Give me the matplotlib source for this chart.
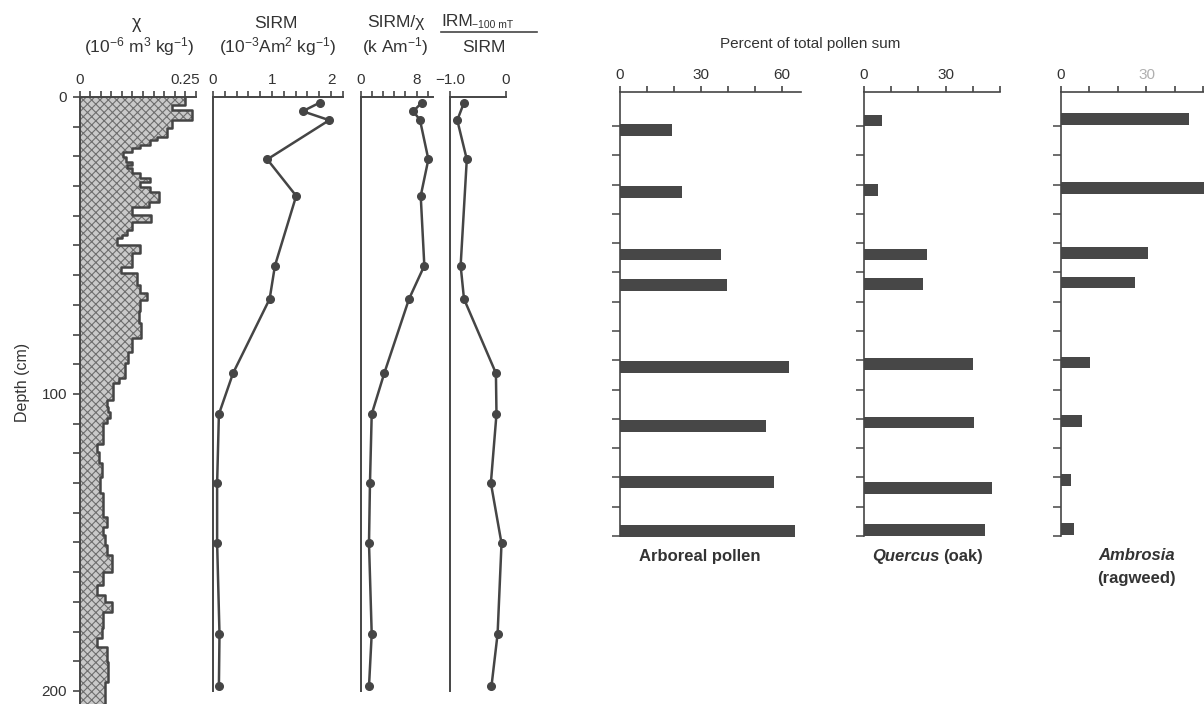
import numpy as np
import matplotlib
matplotlib.use('Agg')
import matplotlib.pyplot as plt
from matplotlib.lines import Line2D

plt.rcParams['font.family'] = ['Liberation Sans', 'DejaVu Sans']
plt.rcParams['mathtext.fontset'] = 'custom'
plt.rcParams['mathtext.rm'] = 'Liberation Sans'
plt.rcParams['mathtext.it'] = 'Liberation Sans:italic'
plt.rcParams['hatch.linewidth'] = 0.8

# ---------------- data ----------------
# magnetic susceptibility step profile (top depth of each step, cm ; chi value)
chi_top = [0, 2.7, 4.4, 7.7, 10.5, 13.4, 14.5, 16, 17.3, 18.4, 20.1, 21.8, 23, 24, 25.7,
           27.4, 28.5, 30.2, 31.9, 35.2, 36.9, 39.7, 42, 44.8, 46.5, 47.6, 49.8, 52.6,
           57.1, 59.4, 63.3, 66.1, 68.4, 72, 76, 81.3, 85.8, 89.7, 94.7, 96.4, 102,
           104.3, 106, 108, 109.9, 116.7, 119.4, 123.4, 128, 133.5, 141.3, 144.7, 147.5,
           150.8, 154.2, 159.8, 164.3, 167.7, 169.9, 173.3, 178.9, 182.3, 185.1, 190.1,
           196.9]
chi_val = [0.249, 0.218, 0.265, 0.218, 0.206, 0.182, 0.166, 0.143, 0.123, 0.103, 0.110,
           0.123, 0.113, 0.125, 0.143, 0.166, 0.143, 0.166, 0.188, 0.164, 0.125, 0.169,
           0.123, 0.112, 0.100, 0.088, 0.143, 0.123, 0.097, 0.135, 0.143, 0.159, 0.143,
           0.140, 0.145, 0.123, 0.115, 0.108, 0.094, 0.080, 0.064, 0.068, 0.072, 0.066,
           0.056, 0.041, 0.046, 0.052, 0.049, 0.056, 0.064, 0.056, 0.060, 0.064, 0.076,
           0.056, 0.041, 0.060, 0.076, 0.056, 0.052, 0.041, 0.064, 0.068, 0.060]
chi_bottom = 204.4

mag_depth = [1.9, 4.8, 7.8, 21.0, 33.3, 56.8, 68.0, 93.0, 106.8, 130.0, 150.3, 180.8, 198.5]
sirm = [1.81, 1.52, 1.97, 0.92, 1.41, 1.05, 0.96, 0.34, 0.10, 0.07, 0.07, 0.11, 0.10]
sirm_chi = [8.73, 7.53, 8.49, 9.69, 8.59, 9.11, 6.91, 3.35, 1.54, 1.29, 1.15, 1.54, 1.15]
irm_depth = [1.9, 7.8, 21.0, 56.8, 68.0, 93.0, 106.8, 130.0, 150.3, 180.8, 198.5]
irm_ratio = [-0.75, -0.87, -0.70, -0.81, -0.75, -0.18, -0.17, -0.27, -0.08, -0.15, -0.26]

# pollen percentages
arb_depth = [11.4, 32.5, 53.9, 64.2, 92.3, 112.4, 131.5, 148.3]
arb_pct = [19.4, 23.0, 37.5, 39.7, 62.6, 54.1, 57.1, 64.7]
que_depth = [8.1, 31.8, 53.9, 64.0, 91.2, 111.2, 133.5, 147.9]
que_pct = [6.6, 5.1, 23.1, 21.6, 40.0, 40.6, 46.9, 44.4]
amb_depth = [7.6, 31.2, 53.4, 63.4, 90.8, 110.7, 130.8, 147.5]
amb_pct = [44.9, 55.0, 30.7, 26.1, 10.2, 7.4, 3.5, 4.5]

# ---------------- figure ----------------
W, H = 1204, 704
fig = plt.figure(figsize=(W / 100, H / 100), dpi=100)
INK = '#454545'
TXT = '#333333'


def ax_px(x0, x1, y0, y1):
    return fig.add_axes([x0 / W, 1 - y1 / H, (x1 - x0) / W, (y1 - y0) / H])


def T(x, y, s, **kw):
    kw.setdefault('ha', 'center')
    kw.setdefault('va', 'center')
    kw.setdefault('color', TXT)
    return fig.text(x / W, 1 - y / H, s, **kw)


def style_top(ax, ticks, labels, xlim, ylim, left_bound=None, fs=11):
    ax.set_xlim(*xlim)
    ax.set_ylim(*ylim)
    ax.patch.set_alpha(0)
    for s in ['right', 'bottom']:
        ax.spines[s].set_visible(False)
    for s in ['top', 'left']:
        ax.spines[s].set_color(INK)
        ax.spines[s].set_linewidth(1.4)
    if left_bound is not None:
        ax.spines['left'].set_bounds(*left_bound)
    ax.xaxis.tick_top()
    ax.set_xticks(ticks)
    ax.set_xticklabels(labels)
    ax.tick_params(axis='x', direction='out', length=4, width=1.2, color=INK,
                   labelsize=fs, labelcolor=TXT, pad=3)


# chi panel
ax1 = ax_px(79.5, 196, 97, 704)
t1 = np.round(np.arange(0, 0.2751, 0.025), 3)
style_top(ax1, t1, ['0' if v == 0 else ('0.25' if abs(v - 0.25) < 1e-6 else '') for v in t1],
          (0, 0.275), (chi_bottom, 0))
d_edges = np.array(chi_top + [chi_bottom])
v_edges = np.array(chi_val + [chi_val[-1]])
ax1.fill_betweenx(d_edges, 0, v_edges, step='post', facecolor='#c9c9c9',
                  edgecolor='#6e6e6e', hatch='xxxx', linewidth=0)
ax1.plot(v_edges, d_edges, drawstyle='steps-pre', color=INK, lw=1.8)
yt = np.arange(0, 201, 10)
ax1.set_yticks(yt)
ax1.set_yticklabels([str(v) if v % 100 == 0 else '' for v in yt])
ax1.tick_params(axis='y', direction='out', length=5, width=1.2, color=INK,
                labelsize=11, labelcolor=TXT, pad=4)

# SIRM panel
ax2 = ax_px(213, 342.8, 97, 704)
t2 = np.round(np.arange(0, 2.201, 0.2), 2)
style_top(ax2, t2, ['0' if v == 0 else ('1' if v == 1 else ('2' if v == 2 else '')) for v in t2],
          (0, 2.2), (chi_bottom, 0), left_bound=(0, 200))
ax2.plot(sirm, mag_depth, color=INK, lw=1.8, marker='o', ms=5.5)
ax2.set_yticks([])

# SIRM/chi panel
ax3 = ax_px(361, 433.3, 97, 704)
t3 = np.round(np.arange(0, 10.0, 1.6), 1)
style_top(ax3, t3, ['0' if v == 0 else ('8' if abs(v - 8) < 1e-6 else '') for v in t3],
          (0, 10.4), (chi_bottom, 0), left_bound=(0, 200))
ax3.plot(sirm_chi, mag_depth, color=INK, lw=1.8, marker='o', ms=5.5)
ax3.set_yticks([])

# IRM-100mT / SIRM panel
ax4 = ax_px(450, 506, 97, 704)
style_top(ax4, [-1, 0], ['\u22121.0', '0'], (-1, 0), (chi_bottom, 0), left_bound=(0, 200))
ax4.plot(irm_ratio, irm_depth, color=INK, lw=1.8, marker='o', ms=5.5)
ax4.set_yticks([])
for a in (ax1, ax2, ax3, ax4):
    for ln in a.lines:
        ln.set_clip_on(False)

# pollen panels
def pollen(x0, x1, xmax, depth, pct, labels_at, gray30=False):
    ax = ax_px(x0, x1, 92, 536)
    ticks = np.arange(0, xmax + 0.01, 10)
    style_top(ax, ticks, [str(int(v)) if v in labels_at else '' for v in ticks],
              (0, xmax), (150, -1.6))
    ax.spines['top'].set_linewidth(1.2)
    ax.spines['left'].set_linewidth(1.2)
    ax.barh(depth, pct, height=4.0, color='#474747', clip_on=False)
    ax.set_yticks(np.arange(10, 151, 10))
    ax.set_yticklabels([])
    ax.tick_params(axis='y', direction='out', length=6, width=1.1, color=INK)
    if gray30:
        for lab, v in zip(ax.get_xticklabels(), ticks):
            if v == 30:
                lab.set_color('#b0b0b0')
    return ax

pollen(620, 800.9, 67, arb_depth, arb_pct, (0, 30, 60))
pollen(864, 1000, 50, que_depth, que_pct, (0, 30))
pollen(1061, 1204, 50.2, amb_depth, amb_pct, (0, 30), gray30=True)

# ---------------- texts ----------------
T(137, 23, '\u03c7', fontsize=13)
T(139, 47, '(10$^{-6}$ m$^{3}$ kg$^{-1}$)', fontsize=12.5)
T(276, 23, 'SIRM', fontsize=12.5)
T(278, 47, '(10$^{-3}$Am$^{2}$ kg$^{-1}$)', fontsize=12.5)
T(396, 23, 'SIRM/\u03c7', fontsize=12.5)
T(395, 47, '(k Am$^{-1}$)', fontsize=12.5)
T(441, 21, 'IRM', fontsize=12.5, ha='left')
T(472, 25, '\u2212100 mT', fontsize=7.5, ha='left')
fig.add_artist(Line2D([441 / W, 537 / W], [1 - 32 / H, 1 - 32 / H], color=INK, lw=1.2))
T(484, 47, 'SIRM', fontsize=12.5)
T(22, 382, 'Depth (cm)', fontsize=11.5, rotation=90)
T(810, 44, 'Percent of total pollen sum', fontsize=11)

T(700, 556, 'Arboreal pollen', fontsize=12, fontweight='bold')
T(940, 556, 'Quercus', fontsize=12, fontweight='bold', fontstyle='italic', ha='right')
T(943, 556, '(oak)', fontsize=12, fontweight='bold', ha='left')
T(1137, 556, 'Ambrosia', fontsize=12, fontweight='bold', fontstyle='italic')
T(1136, 579, '(ragweed)', fontsize=12, fontweight='bold')

fig.savefig('out.png', dpi=100)
